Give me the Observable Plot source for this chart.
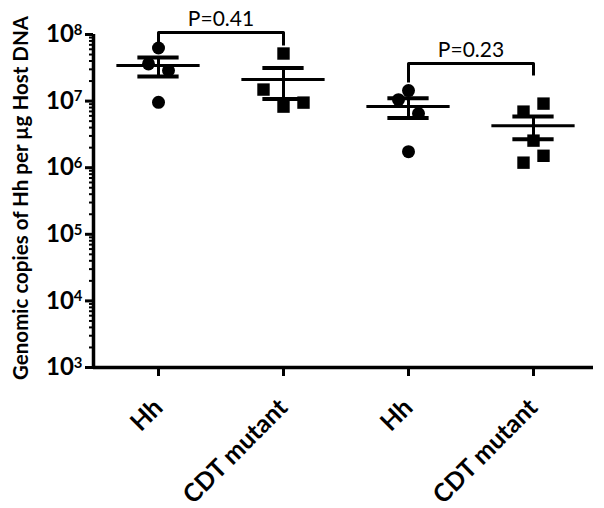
<!DOCTYPE html>
<html><head><meta charset="utf-8">
<script src="https://cdn.jsdelivr.net/npm/d3@7"></script>
<script src="https://cdn.jsdelivr.net/npm/@observablehq/plot@0.6"></script>
<style>body{margin:0;background:#fff} #chart{width:604px;height:508px}</style>
</head><body><div id="chart"></div>
<script>
// ---- data ----
const groupLabels = ["Hh", "CDT mutant", "Hh", "CDT mutant"];
const groupSymbols = ["circle", "square", "circle", "square"];
const hh1  = [6.27e7, 3.62e7, 2.88e7, 9.6e6];
const cdt1 = [5.18e7, 1.49e7, 9.49e6, 8.26e6];
const hh2  = [1.44e7, 1.05e7, 6.49e6, 1.74e6];
const cdt2 = [9.17e6, 6.95e6, 2.55e6, 1.51e6, 1.19e6];
// lateral column slot of each point (scatter jitter)
const slotsHh1 = [0, -1, 1, 0];
const slotsCdt1 = [0, -2, 2, 0];
const slotsHh2 = [0, -1, 1, 0];
const slotsCdt2 = [1, -1, 0, 1, -1];
const pLabels = ["P=0.41", "P=0.23"];
const bracketPairs = [[0, 1], [2, 3]];
const bracketTop = [1.07e8, 3.66e7];
const bracketLeftEnd = [6.85e7, 1.9e7];
const bracketRightEnd = [6.85e7, 2.42e7];
const yTicks = [1e3, 1e4, 1e5, 1e6, 1e7, 1e8];
const yLabel = "Genomic copies of Hh per µg Host DNA";

// ---- derived ----
const series = [hh1, cdt1, hh2, cdt2];
const slots = [slotsHh1, slotsCdt1, slotsHh2, slotsCdt2];
const points = [];
series.forEach((vals, g) => vals.forEach((v, j) => points.push({g, v, slot: slots[g][j], symbol: groupSymbols[g]})));
const stats = series.map((vals, g) => {
  const m = d3.mean(vals), s = d3.deviation(vals) / Math.sqrt(vals.length);
  return {g, mean: m, lo: m - s, hi: m + s};
});
const minorTicks = [];
for (let k = 3; k < 8; k++) for (let m = 2; m < 10; m++) minorTicks.push(m * 10 ** k);
const brackets = bracketPairs.flatMap(([a, b], k) => [
  {k, x: a, y: bracketLeftEnd[k]}, {k, x: a, y: bracketTop[k]},
  {k, x: b, y: bracketTop[k]}, {k, x: b, y: bracketRightEnd[k]}]);

const JIT = 0.08, MEANW = 0.333, CAPW = 0.165, X0 = -0.52;

const svg = Plot.plot({
  width: 604, height: 508,
  marginLeft: 93, marginRight: 11, marginTop: 34, marginBottom: 141,
  x: {domain: [X0, 3.48]},
  y: {type: "log", domain: [1e3, 1e8]},
  style: {fontFamily: "Lato, sans-serif", color: "black", background: "white", overflow: "visible"},
  marks: [
    Plot.axisY(minorTicks, {tickSize: 4, strokeWidth: 2, tickFormat: () => "", label: null}),
    Plot.axisY(yTicks, {tickSize: 8, strokeWidth: 3, tickPadding: 3, fontSize: 24, fontWeight: "bold",
      tickFormat: d => "10^" + Math.round(Math.log10(d)), label: null}),
    Plot.axisX([0, 1, 2, 3], {tickSize: 9, strokeWidth: 3, tickRotate: -45, tickPadding: 27,
      tickFormat: i => groupLabels[i], fontSize: 25, fontWeight: "bold", label: null}),
    Plot.ruleY([1e3], {strokeWidth: 3.5}),
    Plot.ruleX([X0], {strokeWidth: 3.5}),
    Plot.ruleY(stats, {y: "mean", x1: d => d.g - MEANW, x2: d => d.g + MEANW, strokeWidth: 3}),
    Plot.ruleX(stats, {x: "g", y1: "lo", y2: "hi", strokeWidth: 3}),
    Plot.ruleY(stats, {y: "hi", x1: d => d.g - CAPW, x2: d => d.g + CAPW, strokeWidth: 4}),
    Plot.ruleY(stats, {y: "lo", x1: d => d.g - CAPW, x2: d => d.g + CAPW, strokeWidth: 4}),
    Plot.dot(points.filter(d => d.symbol === "circle"), {x: d => d.g + d.slot * JIT, y: "v", symbol: "circle", fill: "black", r: 6.5}),
    Plot.dot(points.filter(d => d.symbol === "square"), {x: d => d.g + d.slot * JIT, y: "v", symbol: "square", fill: "black", r: 7}),
    Plot.line(brackets, {x: "x", y: "y", z: "k", strokeWidth: 3, strokeLinejoin: "round", strokeLinecap: "butt"}),
    Plot.text(pLabels, {x: (d, i) => (bracketPairs[i][0] + bracketPairs[i][1]) / 2, y: (d, i) => bracketTop[i],
      text: d => d, dy: -7, lineAnchor: "bottom", fontSize: 21}),
    Plot.text([yLabel], {frameAnchor: "left", dx: -72, dy: -3, rotate: -90, textAnchor: "middle", fontSize: 20.5, fontWeight: "bold"})
  ]
});

d3.select(svg).selectAll('g[aria-label="y-axis tick label"] text').each(function () {
  const t = this.textContent;
  if (!t.startsWith("10^")) return;
  const e = t.slice(3);
  const sel = d3.select(this);
  sel.text(null);
  sel.append("tspan").text("10");
  sel.append("tspan").attr("dy", "-0.5em").attr("font-size", "0.62em").text(e);
});

document.getElementById("chart").appendChild(svg);
</script>
</body></html>
